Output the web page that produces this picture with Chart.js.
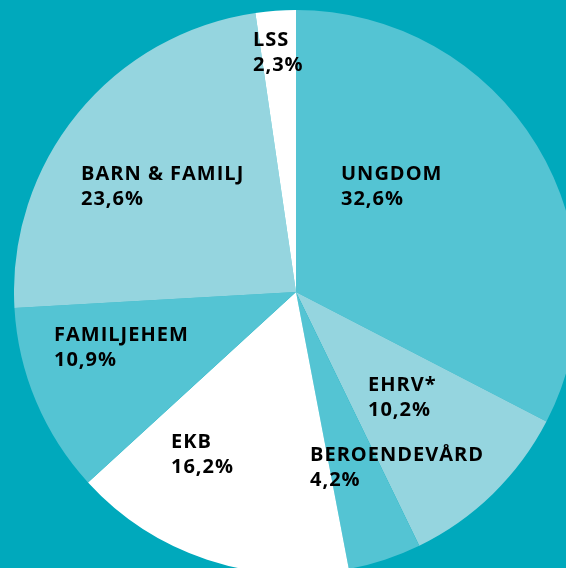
<!DOCTYPE html>
<html>
<head>
<meta charset="utf-8">
<script src="https://cdn.jsdelivr.net/npm/chart.js@4"></script>
<style>
  html, body { margin: 0; padding: 0; width: 566px; height: 568px; overflow: hidden; background: #00A9BC; }
  #wrap { position: absolute; left: 14px; top: 10px; width: 564px; height: 564px; }
</style>
</head>
<body>
<div id="wrap"><canvas id="c" width="564" height="564"></canvas></div>
<script>
const categories = ["UNGDOM", "EHRV*", "BEROENDEVÅRD", "EKB", "FAMILJEHEM", "BARN & FAMILJ", "LSS"];
const values = [32.6, 10.2, 4.2, 16.2, 10.9, 23.6, 2.3];
const valueLabels = ["32,6%", "10,2%", "4,2%", "16,2%", "10,9%", "23,6%", "2,3%"];
const sliceColors = ["#54C4D3", "#95D5DF", "#54C4D3", "#FFFFFF", "#54C4D3", "#95D5DF", "#FFFFFF"];
// label anchor offsets from pie centre (px): left edge, first-line baseline
const labelOffsets = [[45, -112], [72, 99], [14, 169], [-125, 156], [-242, 49], [-215, -112], [-43, -246]];

const labelPlugin = {
  id: 'sliceLabels',
  afterDatasetsDraw(chart) {
    const ctx = chart.ctx;
    const arc0 = chart.getDatasetMeta(0).data[0];
    const cx = arc0.x, cy = arc0.y;
    ctx.save();
    ctx.fillStyle = '#000000';
    ctx.font = 'bold 20px "Open Sans", sans-serif';
    ctx.letterSpacing = '1px';
    ctx.textAlign = 'left';
    ctx.textBaseline = 'alphabetic';
    categories.forEach((name, i) => {
      const [dx, dy] = labelOffsets[i];
      ctx.fillText(name, cx + dx, cy + dy);
      ctx.fillText(valueLabels[i], cx + dx, cy + dy + 25);
    });
    ctx.restore();
  }
};

new Chart(document.getElementById('c'), {
  type: 'pie',
  data: {
    labels: categories,
    datasets: [{
      data: values,
      backgroundColor: sliceColors,
      borderWidth: 0
    }]
  },
  options: {
    responsive: false,
    animation: false,
    layout: { padding: 0 },
    plugins: { legend: { display: false }, tooltip: { enabled: false } }
  },
  plugins: [labelPlugin]
});
</script>
</body>
</html>
